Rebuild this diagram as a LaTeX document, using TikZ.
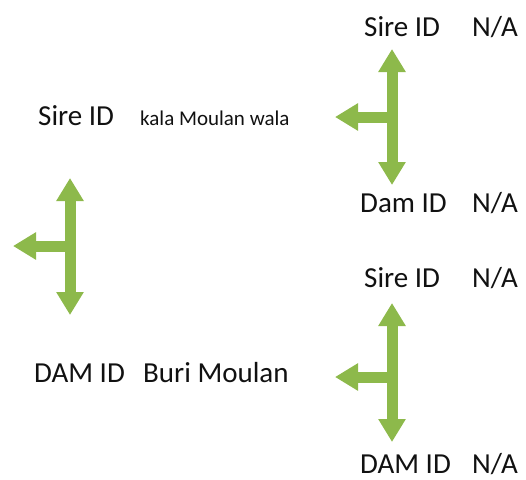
\documentclass[tikz,border=0pt]{standalone}
\usepackage{fontspec}
\setmainfont{Carlito}
\usepackage{tikz}
\usetikzlibrary{arrows.meta}
\definecolor{ForkGreen}{HTML}{8DB94B}
\definecolor{LabelInk}{HTML}{111111}
\tikzset{
  every node/.style={text=LabelInk, inner sep=0pt, anchor=base west},
  idlabel/.style={font=\fontsize{29}{32}\selectfont},
  namelabel/.style={font=\fontsize{21}{24}\selectfont},
  fork/.style={draw=ForkGreen, line width=11pt},
  twohead/.style={fork, {Triangle[width=26pt,length=23pt]}-{Triangle[width=26pt,length=23pt]}},
  onehead/.style={fork, -{Triangle[width=26pt,length=23pt]}},
}

\begin{document}
\begin{tikzpicture}[x=1pt,y=-1pt]
  \useasboundingbox (0,0) rectangle (526,479);
  % Left fork: the animal itself
  \node[idlabel] (sire) at (38,125) {Sire ID};
  \node[namelabel] (sirename) at (140,125) {kala Moulan wala};
  \node[idlabel] (dam) at (34,382) {DAM ID};
  \node[idlabel] (damname) at (143,382) {Buri Moulan};
  \coordinate (forkA) at (70,246);
  \coordinate (forkAtop) at (70,178);
  \coordinate (forkAbot) at (70,315);
  \coordinate (forkAleft) at (13,246);
  \draw[twohead] (forkAtop) -- (forkAbot);
  \draw[onehead] (forkA) -- (forkAleft);
  % Upper right fork: parents of the sire
  \node[idlabel] (siresire) at (364,36) {Sire ID};
  \node[idlabel] (siresirena) at (472,36) {N/A};
  \node[idlabel] (siredam) at (360,212) {Dam ID};
  \node[idlabel] (siredamna) at (472,212) {N/A};
  \coordinate (forkB) at (392,117);
  \coordinate (forkBtop) at (392,49);
  \coordinate (forkBbot) at (392,185);
  \coordinate (forkBleft) at (335,117);
  \draw[twohead] (forkBtop) -- (forkBbot);
  \draw[onehead] (forkB) -- (forkBleft);
  % Lower right fork: parents of the dam
  \node[idlabel] (damsire) at (364,287) {Sire ID};
  \node[idlabel] (damsirena) at (472,287) {N/A};
  \node[idlabel] (damdam) at (360,473) {DAM ID};
  \node[idlabel] (damdamna) at (472,473) {N/A};
  \coordinate (forkC) at (392,377);
  \coordinate (forkCtop) at (392,303);
  \coordinate (forkCbot) at (392,442);
  \coordinate (forkCleft) at (335,377);
  \draw[twohead] (forkCtop) -- (forkCbot);
  \draw[onehead] (forkC) -- (forkCleft);
\end{tikzpicture}
\end{document}
